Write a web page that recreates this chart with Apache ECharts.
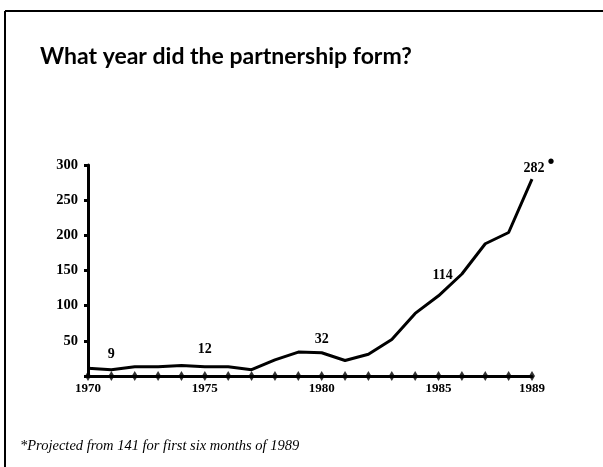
<!DOCTYPE html>
<html><head><meta charset="utf-8">
<script src="https://cdn.jsdelivr.net/npm/echarts@6/dist/echarts.min.js"></script>
<style>html,body{margin:0;padding:0;background:#fff}#c{width:603px;height:467px}</style>
</head><body><div id="c"></div>
<script>
var years = [1970,1971,1972,1973,1974,1975,1976,1977,1978,1979,1980,1981,1982,1983,1984,1985,1986,1987,1988,1989];
var values = [11,9,13,13,15,13,13,9,23,34,33,22,31,52,89,114,145,188,204,280];
var labeledYears = [1971,1975,1980,1985,1989];
var labelTexts = ['9','12','32','114','282'];
var xTickLabels = [1970,1975,1980,1985,1989];
var yTicks = [50,100,150,200,250,300];
var titleText = 'What year did the partnership form?';
var footnote = '*Projected from 141 for first six months of 1989';

var labelOffsets = {1971:[0,-4],1975:[0,-6],1980:[0,-2],1985:[4,-9],1989:[7,9]};
var lineData = years.map(function(y,i){
  var k = labeledYears.indexOf(y);
  var item = {value:[y,values[i]]};
  if(k>=0){
    var txt = labelTexts[k];
    item.label = {show:true, position:'top', distance:4, offset:labelOffsets[y]||[0,0],
      formatter: y===1989 ? '{a|'+txt+'}{s|•}' : '{a|'+txt+'}',
      rich: {a:{fontFamily:'Liberation Serif',fontWeight:'bold',fontSize:14,color:'#000'},
             s:{fontSize:20,color:'#000',verticalAlign:'top',padding:[0,0,12,3]}}};
  }
  return item;
});

var chart = echarts.init(document.getElementById('c'));
chart.setOption({
  animation:false,
  backgroundColor:'#fff',
  title:{text:titleText,left:35,top:40,textStyle:{fontFamily:'Lato',fontWeight:'bold',fontSize:23,color:'#000'}},
  graphic:[
    {type:'line',shape:{x1:5,y1:11,x2:603,y2:11},style:{stroke:'#000',lineWidth:2}},
    {type:'line',shape:{x1:5,y1:11,x2:5,y2:467},style:{stroke:'#000',lineWidth:2}},
    {type:'text',left:20,top:439,style:{text:footnote,font:'italic 14.5px "Liberation Serif"',fill:'#000'}}
  ],
  grid:{left:88,right:71,top:165,bottom:91},
  xAxis:{type:'value',min:1970,max:1989,interval:1,
    axisLine:{lineStyle:{color:'#000',width:3}},
    axisTick:{show:false},splitLine:{show:false},
    axisLabel:{color:'#000',fontFamily:'Liberation Serif',fontWeight:'bold',fontSize:13,margin:6,
      formatter:function(v){return xTickLabels.indexOf(v)>=0?String(v):'';}}},
  yAxis:{type:'value',min:0,max:300,interval:50,
    axisLine:{show:true,lineStyle:{color:'#000',width:3}},
    axisTick:{show:true,length:4,lineStyle:{color:'#000',width:3}},
    splitLine:{show:false},
    axisLabel:{color:'#000',fontFamily:'Liberation Serif',fontWeight:'bold',fontSize:14.5,margin:10,
      formatter:function(v){return yTicks.indexOf(v)>=0?String(v):'';}}},
  series:[
    {type:'line',data:lineData,symbol:'circle',symbolSize:0.1,showSymbol:true,
      itemStyle:{color:'#000'},lineStyle:{color:'#000',width:3},z:3},
    {type:'scatter',data:years.map(function(y){return [y,0];}),symbol:'diamond',symbolSize:[6,10],
      itemStyle:{color:'#000'},z:4}
  ]
});
</script></body></html>
